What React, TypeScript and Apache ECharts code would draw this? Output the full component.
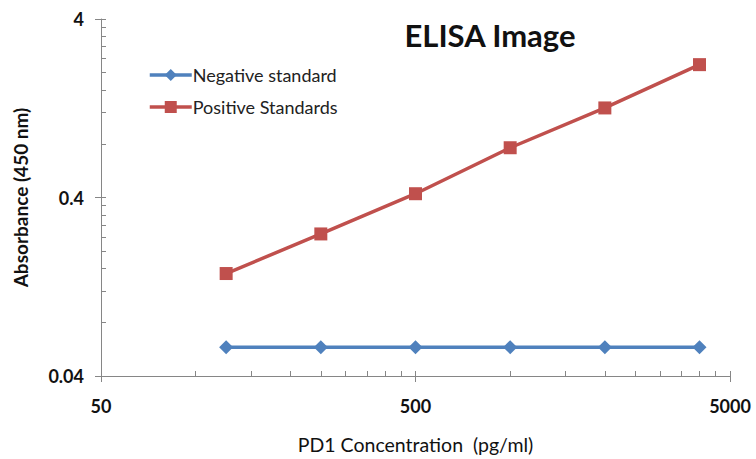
import React, { useEffect, useRef } from "react";
import * as echarts from "echarts";

const concentrations = [125, 250, 500, 1000, 2000, 4000];
const negativeValues = [0.058, 0.058, 0.058, 0.058, 0.058, 0.058];
const positiveValues = [0.15, 0.25, 0.42, 0.76, 1.27, 2.22];

const xMajorTicks = [50, 500, 5000];
const xAllTicks = [
  50, 100, 150, 200, 250, 300, 350, 400, 450,
  500, 1000, 1500, 2000, 2500, 3000, 3500, 4000, 4500, 5000,
];
const yMajorTicks = [0.04, 0.4, 4];
const yAllTicks = [
  0.04, 0.08, 0.12, 0.16, 0.2, 0.24, 0.28, 0.32, 0.36,
  0.4, 0.8, 1.2, 1.6, 2, 2.4, 2.8, 3.2, 3.6, 4,
];

const FONT = "Lato, 'Open Sans', sans-serif";
const AXIS_COLOR = "#868686";

export default function App() {
  const ref = useRef<HTMLDivElement>(null);
  useEffect(() => {
    if (!ref.current) return;
    const chart = echarts.init(ref.current, undefined, { renderer: "svg" });
    const negData = concentrations.map((c, i) => [c, negativeValues[i]]);
    const posData = concentrations.map((c, i) => [c, positiveValues[i]]);
    const xBase = {
      type: "log" as const,
      logBase: 10,
      min: 50,
      max: 5000,
      position: "bottom" as const,
      splitLine: { show: false },
      minorTick: { show: false },
    };
    const yBase = {
      type: "log" as const,
      logBase: 10,
      min: 0.04,
      max: 4,
      position: "left" as const,
      splitLine: { show: false },
      minorTick: { show: false },
    };
    chart.setOption({
      animation: false,
      backgroundColor: "#ffffff",
      textStyle: { fontFamily: FONT },
      title: {
        text: "ELISA Image",
        left: 485,
        top: 14,
        textAlign: "center",
        textStyle: { fontFamily: FONT, fontSize: 31, fontWeight: "bold", color: "#111" },
      },
      legend: {
        left: 148,
        top: 66,
        padding: 0,
        orient: "vertical",
        itemWidth: 42,
        itemHeight: 15,
        itemGap: 14,
        lineStyle: { width: 3.5 },
        textStyle: { fontFamily: FONT, fontSize: 18, color: "#222", padding: [0, 0, 0, -4] },
        data: ["Negative standard", "Positive Standards"],
      },
      grid: { left: 101, right: 26, top: 19, bottom: 80, containLabel: false },
      xAxis: [
        {
          ...xBase,
          name: "PD1 Concentration  (pg/ml)",
          nameLocation: "middle",
          nameGap: 58,
          nameTextStyle: { fontFamily: FONT, fontSize: 19.5, color: "#111", fontWeight: "normal" },
          axisLine: { show: true, onZero: false, lineStyle: { color: AXIS_COLOR, width: 1 } },
          axisTick: {
            show: true,
            inside: false,
            length: 6,
            customValues: xMajorTicks,
            lineStyle: { color: AXIS_COLOR },
          },
          axisLabel: {
            customValues: xMajorTicks,
            margin: 21,
            fontFamily: FONT,
            fontSize: 18,
            fontWeight: "bold",
            color: "#111",
            formatter: (v: number) => String(v),
          },
        },
        {
          ...xBase,
          axisLine: { show: false, onZero: false },
          axisTick: {
            show: true,
            inside: true,
            length: 5,
            customValues: xAllTicks,
            lineStyle: { color: AXIS_COLOR },
          },
          axisLabel: { show: false },
        },
      ],
      yAxis: [
        {
          ...yBase,
          name: "Absorbance (450 nm)",
          nameLocation: "middle",
          nameGap: 71,
          nameRotate: 90,
          nameTextStyle: { fontFamily: FONT, fontSize: 19, color: "#111", fontWeight: "bold" },
          axisLine: { show: true, onZero: false, lineStyle: { color: AXIS_COLOR, width: 1 } },
          axisTick: {
            show: true,
            inside: false,
            length: 6,
            customValues: yMajorTicks,
            lineStyle: { color: AXIS_COLOR },
          },
          axisLabel: {
            customValues: yMajorTicks,
            margin: 17,
            fontFamily: FONT,
            fontSize: 18,
            fontWeight: "bold",
            color: "#111",
            formatter: (v: number) => String(v),
          },
        },
        {
          ...yBase,
          axisLine: { show: false, onZero: false },
          axisTick: {
            show: true,
            inside: true,
            length: 5,
            customValues: yAllTicks,
            lineStyle: { color: AXIS_COLOR },
          },
          axisLabel: { show: false },
        },
      ],
      series: [
        {
          name: "Negative standard",
          type: "line",
          xAxisIndex: 0,
          yAxisIndex: 0,
          data: negData,
          symbol: "diamond",
          symbolSize: 14,
          lineStyle: { color: "#4F81BD", width: 3.5 },
          itemStyle: { color: "#4F81BD" },
        },
        {
          name: "Positive Standards",
          type: "line",
          xAxisIndex: 0,
          yAxisIndex: 0,
          data: posData,
          symbol: "rect",
          symbolSize: 13,
          lineStyle: { color: "#C0504D", width: 3.5 },
          itemStyle: { color: "#C0504D" },
        },
      ],
    });
    return () => chart.dispose();
  }, []);
  return (
    <div
      ref={ref}
      style={{ position: "absolute", left: 0, top: 0, width: 756, height: 459 }}
    />
  );
}
